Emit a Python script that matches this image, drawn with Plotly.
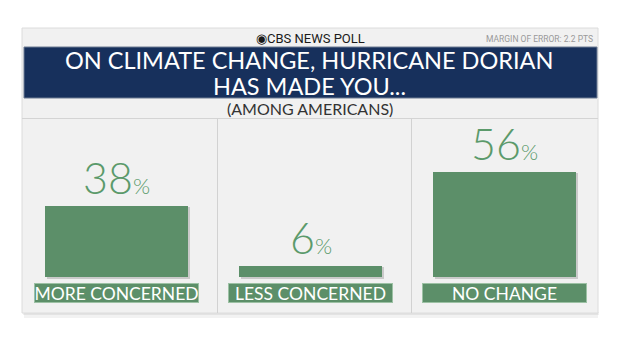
import plotly.graph_objects as go

# ---- data ----
categories = ["MORE CONCERNED", "LESS CONCERNED", "NO CHANGE"]
values = [38, 6, 56]
header = "CBS NEWS POLL"
margin_note = "MARGIN OF ERROR: 2.2 PTS"
title_lines = ["ON CLIMATE CHANGE, HURRICANE DORIAN", "HAS MADE YOU..."]
subtitle = "(AMONG AMERICANS)"

W, H = 620, 349
GREEN = "#5c8f69"
TEXT_GREEN = "#5b9a6b"
NAVY = "#17305c"

xs = list(range(len(categories)))
px_per_unit = 194.0
x0_px = 116.5
px_per_pct = 1.88
base_px = 277.0
bar_w = 143 / px_per_unit

fig = go.Figure()

# shadow bars (derived from data)
fig.add_trace(go.Bar(
    x=xs, y=[v + 0.5 / px_per_pct for v in values], base=-2.0 / px_per_pct,
    width=bar_w, offset=-bar_w / 2 + 2 / px_per_unit,
    marker=dict(color="rgba(0,0,0,0.16)", line=dict(width=0)),
    hoverinfo="skip", showlegend=False,
))
fig.add_trace(go.Bar(
    x=xs, y=values, width=bar_w, offset=-bar_w / 2,
    marker=dict(color=GREEN, line=dict(width=0)),
    showlegend=False,
))

FONT = "Lato"
shapes = []
# card shadow
shapes.append(dict(type="rect", xref="paper", yref="paper", x0=24/W, x1=598/W,
                   y0=1-318/H, y1=1-312/H, fillcolor="rgba(0,0,0,0.05)", line=dict(width=0), layer="below"))
shapes.append(dict(type="rect", xref="paper", yref="paper", x0=23/W, x1=599/W,
                   y0=1-315/H, y1=1-312/H, fillcolor="rgba(0,0,0,0.06)", line=dict(width=0), layer="below"))
# card
shapes.append(dict(type="rect", xref="paper", yref="paper", x0=22/W, x1=598/W,
                   y0=1-313/H, y1=1-28/H, fillcolor="#f1f1f1", line=dict(color="#dcdcdc", width=1), layer="below"))
# navy band
shapes.append(dict(type="rect", xref="paper", yref="paper", x0=24/W, x1=597/W,
                   y0=1-98/H, y1=1-47/H, fillcolor=NAVY, line=dict(color="#6d7a92", width=1), layer="below"))
# horizontal separator
shapes.append(dict(type="line", xref="paper", yref="paper", x0=22/W, x1=598/W,
                   y0=1-118.5/H, y1=1-118.5/H, line=dict(color="#d4d4d4", width=1), layer="below"))
# panel dividers
for xp in (217.5, 411.5):
    shapes.append(dict(type="line", xref="paper", yref="paper", x0=xp/W, x1=xp/W,
                       y0=1-313/H, y1=1-118.5/H, line=dict(color="#d2d2d2", width=1), layer="below"))

annotations = []
annotations.append(dict(xref="paper", yref="paper", x=310/W, y=1-38/H, text="◉" + header,
                        showarrow=False, font=dict(family="Roboto", size=13, color="#1a1a1a"),
                        xanchor="center", yanchor="middle"))
annotations.append(dict(xref="paper", yref="paper", x=595/W, y=1-39/H, text=margin_note,
                        showarrow=False, font=dict(family="Roboto", size=8.5, color="#999"),
                        xanchor="right", yanchor="middle"))
for line, yc in zip(title_lines, (60, 86)):
    annotations.append(dict(xref="paper", yref="paper", x=309/W, y=1-yc/H, text=line,
                            showarrow=False, font=dict(family=FONT, size=23.5, color="white"),
                            xanchor="center", yanchor="middle", align="center", borderpad=0))
annotations.append(dict(xref="paper", yref="paper", x=310/W, y=1-108.5/H, text=subtitle,
                        showarrow=False, font=dict(family=FONT, size=16, color="#333"),
                        xanchor="center", yanchor="middle", borderpad=0))

for x, v, c in zip(xs, values, categories):
    annotations.append(dict(x=x, y=v, xref="x", yref="y", showarrow=False,
                            text=f"{v}<span style='font-size:22px'>%</span>",
                            font=dict(family=FONT, size=43, color=TEXT_GREEN, weight=300),
                            xanchor="center", yanchor="bottom", yshift=1))
    annotations.append(dict(x=x, y=0, xref="x", yref="y", showarrow=False, text=c,
                            font=dict(family=FONT, size=17.5, color="white"),
                            bgcolor=GREEN, bordercolor="#9cc1a4", borderwidth=1, borderpad=0,
                            width=163, height=18, xanchor="center", yanchor="top", yshift=-6))

fig.update_layout(
    width=W, height=H, margin=dict(l=0, r=0, t=0, b=0),
    paper_bgcolor="white", plot_bgcolor="rgba(0,0,0,0)",
    barmode="overlay", bargap=0,
    xaxis=dict(range=[-x0_px / px_per_unit, (W - x0_px) / px_per_unit], visible=False, fixedrange=True),
    yaxis=dict(range=[-(H - base_px) / px_per_pct, base_px / px_per_pct], visible=False, fixedrange=True),
    shapes=shapes, annotations=annotations,
)

fig.write_html("out.html")
